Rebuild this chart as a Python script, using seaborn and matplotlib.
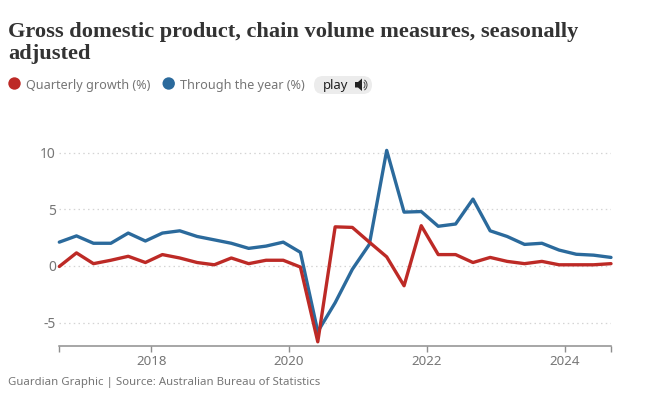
import numpy as np
import pandas as pd
import seaborn as sns
import matplotlib.pyplot as plt
import matplotlib.dates as mdates
from matplotlib.patches import Circle, FancyBboxPatch, Polygon, Arc

W, H = 650, 395

quarters = pd.date_range("2016-09-01", "2024-09-01", freq="3MS")
quarterly = [-0.05, 1.15, 0.2, 0.5, 0.85, 0.3, 1.0, 0.7, 0.3, 0.1, 0.7, 0.2, 0.5, 0.5, -0.1, -6.7,
             3.45, 3.4, 2.1, 0.8, -1.75, 3.55, 1.0, 1.0, 0.3, 0.75, 0.4, 0.2, 0.4, 0.1, 0.1, 0.1, 0.2]
through_year = [2.1, 2.65, 2.0, 2.0, 2.9, 2.2, 2.9, 3.1, 2.6, 2.3, 2.0, 1.55, 1.75, 2.1, 1.2, -5.8,
                -3.25, -0.3, 1.9, 10.2, 4.75, 4.8, 3.5, 3.7, 5.9, 3.1, 2.6, 1.9, 2.0, 1.4, 1.03, 0.95, 0.75]
series_names = ["Through the year (%)", "Quarterly growth (%)"]
series_colors = ["#2b6a9c", "#bd2a26"]
y_ticks = [-5, 0, 5, 10]
year_ticks = ["2018", "2020", "2022", "2024"]

title = "Gross domestic product, chain volume measures, seasonally\nadjusted"
source = "Guardian Graphic | Source: Australian Bureau of Statistics"

df = pd.DataFrame({"date": quarters, series_names[0]: through_year, series_names[1]: quarterly})
df = df.melt("date", var_name="series", value_name="value")

sns.set_style("white")
plt.rcParams["font.family"] = ["Noto Sans", "DejaVu Sans"]

fig = plt.figure(figsize=(W / 100, H / 100), dpi=100, facecolor="white")
# axes box in pixels: left 59, right 611, bottom 346, top 130
ax = fig.add_axes([59.3 / W, 1 - 346 / H, (611 - 59.3) / W, (346 - 130) / H])

sns.lineplot(data=df, x="date", y="value", hue="series", hue_order=series_names,
             palette=series_colors, linewidth=2.4, legend=False, ax=ax,
             solid_joinstyle="round", clip_on=False, zorder=3)

ax.set_xlim(quarters[0], quarters[-1])
ax.set_ylim(-7.07, 12.0)
ax.set_xlabel("")
ax.set_ylabel("")

for s in ["top", "left", "right"]:
    ax.spines[s].set_visible(False)
ax.spines["bottom"].set_color("#8e8e8e")
ax.spines["bottom"].set_linewidth(1.1)

ax.set_yticks(y_ticks)
ax.set_yticklabels([str(v) for v in y_ticks])
ax.tick_params(axis="y", length=0, pad=2.5, labelsize=10, labelcolor="#767676")
ax.yaxis.grid(True, color="#d4d4d4", linestyle=(0, (1.2, 2.6)), linewidth=0.9)
ax.set_axisbelow(True)

x_ticks = [quarters[0]] + [pd.Timestamp(y + "-01-01") for y in year_ticks] + [quarters[-1]]
ax.set_xticks(mdates.date2num(x_ticks))
ax.set_xticklabels([""] + year_ticks + [""])
ax.tick_params(axis="x", length=4.2, width=1, color="#8e8e8e", pad=2, labelsize=9.6, labelcolor="#767676", bottom=True)

fig.text(8 / W, 1 - 37.5 / H, title.split("\n")[0], family="Liberation Serif", weight="bold",
         fontsize=16.1, color="#333333", va="baseline")
fig.text(8 / W, 1 - 59 / H, title.split("\n")[1], family="Liberation Serif", weight="bold",
         fontsize=16.1, color="#333333", va="baseline")
fig.text(8 / W, 1 - 385.5 / H, source, fontsize=8.2, color="#767676", va="baseline")

# legend row, drawn in pixel coords on an overlay
ov = fig.add_axes([0, 0, 1, 1], facecolor="none")
ov.set_xlim(0, W)
ov.set_ylim(H, 0)
ov.axis("off")
ov.add_patch(Circle((14.5, 83.5), 6.2, color=series_colors[1], lw=0))
ov.add_patch(Circle((168.7, 83.5), 6.2, color=series_colors[0], lw=0))
ov.text(26, 89.5, series_names[1], fontsize=9.1, color="#767676", va="baseline")
ov.text(180, 89.5, series_names[0], fontsize=9.1, color="#767676", va="baseline")
ov.add_patch(FancyBboxPatch((314, 76), 58, 18, boxstyle="round,pad=0,rounding_size=9",
                            fc="#ececec", ec="none", mutation_aspect=1))
ov.text(322.7, 89.5, "play", fontsize=9.4, color="#222222", va="baseline")
ov.add_patch(Polygon([(355, 82), (358, 82), (362, 78.5), (362, 91), (358, 87.5), (355, 87.5)],
                     closed=True, fc="#222222", ec="none"))
ov.add_patch(Arc((362.5, 85), 5, 7, theta1=-70, theta2=70, color="#444444", lw=0.7))
ov.add_patch(Arc((362.5, 85), 9, 11, theta1=-70, theta2=70, color="#444444", lw=0.7))

fig.savefig("out.png", dpi=100)
